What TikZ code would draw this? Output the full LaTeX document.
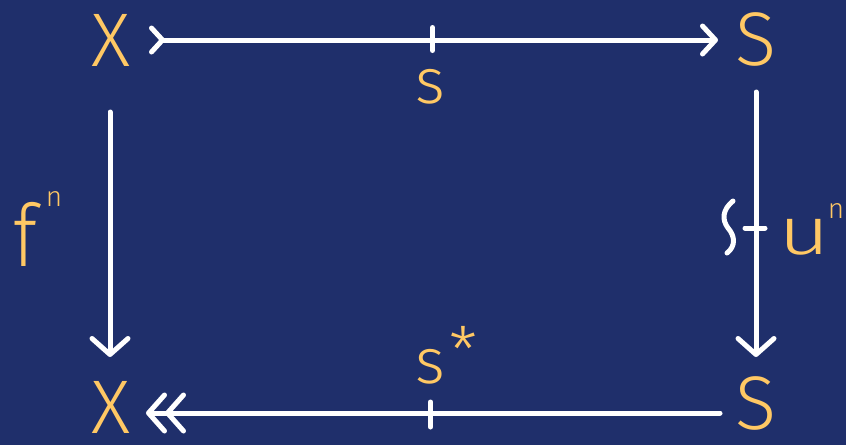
\documentclass[tikz,border=0pt]{standalone}
\usepackage{fontspec}
\setmainfont{Fira Sans Light}
\usetikzlibrary{arrows.meta,calc}
\definecolor{bg}{HTML}{1F2F6B}
\definecolor{ink}{HTML}{FFC864}
\tikzset{
 obj/.style={text=ink, inner sep=0pt, font=\fontsize{76}{76}\selectfont},
 lab/.style={text=ink, inner sep=0pt, font=\fontsize{64}{64}\selectfont},
 supr/.style={text=ink, inner sep=0pt, font=\fontsize{28}{28}\selectfont},
 wire/.style={draw=white, line width=5pt, line cap=round, line join=round},
}
\begin{document}
\begin{tikzpicture}[x=1pt,y=-1pt]
\fill[bg] (0,0) rectangle (846,445);
\useasboundingbox (0,0) rectangle (846,445);
% objects
\node[obj] (X1) at (111,40) {X};
\node[obj] (S1) at (756,39) {S};
\node[obj] (X2) at (111,407) {X};
\node[obj] (S2) at (756,403) {S};
% top arrow (mono)
\draw[wire, {Straight Barb[reversed,length=11pt,width=24pt,round]}-{Straight Barb[length=13pt,width=28pt,round]}]
  ([shift={(38,0)}]X1.center) -- ([shift={(-38,1)}]S1.center);
\path ($(X1.center)!0.5!(S1.center)$) coordinate (mt);
\draw[wire] ([shift={(-1,-12)}]mt) -- ([shift={(-1,11)}]mt);
\node[lab] (ls) at (430,87) {s};
% right arrow (iso)
\draw[wire, -{Straight Barb[length=16pt,width=36pt,round]}]
  ([shift={(0,53)}]S1.center) -- ([shift={(0,-46)}]S2.center);
\path ($(S1.center)!0.5!(S2.center)$) coordinate (mr);
\draw[wire] ([shift={(-11,7)}]mr) -- ([shift={(9,7)}]mr);
\draw[wire] (733,201) .. controls (722,210) and (722,220) .. (728,228) .. controls (735,236) and (736,246) .. (727,253);
\node[lab] (lu) at (804,237) {\scalebox{1.4}[1.05]{u}};
\node[supr] (lun) at (836,211) {n};
% left arrow
\draw[wire, -{Straight Barb[length=16pt,width=36pt,round]}]
  ([shift={(-1,72)}]X1.center) -- ([shift={(-1,-50)}]X2.center);
\node[lab] (lf) at (25,234) {\scalebox{1.15}[1.35]{f}};
\node[supr] (lfn) at (54,199) {n};
% bottom arrow (epi)
\draw[wire, -{Straight Barb[length=16pt,width=36pt,round,sep=-2pt]Straight Barb[length=16pt,width=36pt,round]}]
  ([shift={(-36,10)}]S2.center) -- ([shift={(35,6)}]X2.center);
\path ($(S2.center)!0.5!(X2.center)$) coordinate (mb);
\draw[wire] ([shift={(-3,-3)}]mb) -- ([shift={(-3,22)}]mb);
\node[lab] (lss) at (430,367) {s};
\node[lab] (lst) at (463,350) {*};
\end{tikzpicture}
\end{document}
